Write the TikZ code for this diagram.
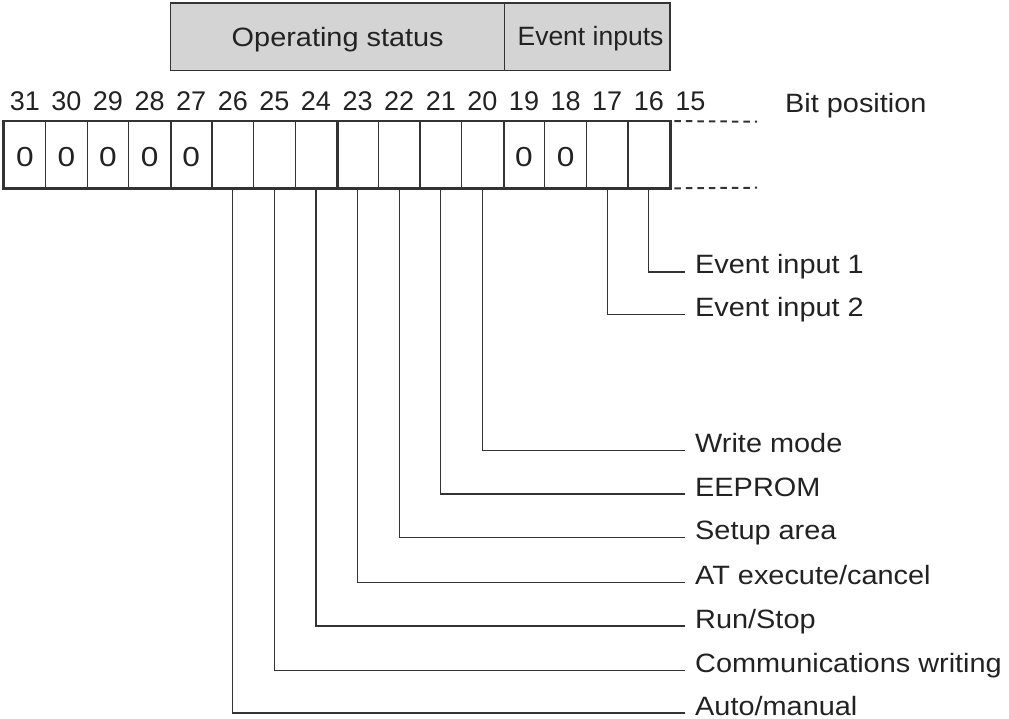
\documentclass[tikz,border=0pt]{standalone}
\usepackage{fontspec}
\setmainfont{Liberation Sans}
\newfontfamily\widefont{Liberation Sans}[FakeStretch=1.09]
\newfontfamily\zerofont{Liberation Sans}[FakeStretch=1.15]
\newfontfamily\plainfont{Liberation Sans}
\definecolor{ink}{HTML}{222222}
\definecolor{linec}{HTML}{333333}
\definecolor{hdrfill}{HTML}{D4D4D4}
\begin{document}
\begin{tikzpicture}[x=1pt,y=-1pt,
  every node/.style={text=ink},
  numfont/.style={font=\plainfont\fontsize{27}{30}\selectfont},
  lblfont/.style={font=\widefont\fontsize{26.5}{30}\selectfont},
  cell/.style={draw=linec, line width=1.3pt, minimum width=41.6pt, minimum height=66pt,
    inner sep=0pt, text height=24pt, text depth=0pt, font=\zerofont\fontsize{27.5}{30}\selectfont},
  hdr/.style={draw=linec, fill=hdrfill, line width=1.3pt, inner sep=0pt},
  bitnum/.style={anchor=base, numfont, inner sep=0pt},
  lbl/.style={anchor=base west, lblfont, inner sep=0pt},
  conn/.style={draw=linec, line width=1.2pt},
  thickline/.style={draw=linec, line width=2.7pt},
  dashline/.style={draw=linec, line width=2pt, dash pattern=on 6.5pt off 5pt, dash phase=-4pt}
]
\useasboundingbox (0,0) rectangle (1009,719);

% header boxes
\node[hdr, minimum width=334pt, minimum height=67.7pt] (opstat) at (337.7,36.85) {};
\node[hdr, minimum width=165.3pt, minimum height=67.7pt] (evin) at (587.35,36.85) {};
\node[lblfont, anchor=base, inner sep=0pt] (optxt) at (337.7,46.7) {Operating status};
\node[font=\plainfont\fontsize{26.5}{30}\selectfont, anchor=base, inner sep=0pt] (evtxt) at (590.5,45.7) {Event inputs};

% bit numbers
\foreach \i in {0,...,16}{
  \pgfmathtruncatemacro{\b}{31-\i}
  \node[bitnum] (n\b) at ({4+(\i+0.5)*41.6},110.7) {\b};
}

% cells
\foreach \i/\v in {0/0,1/0,2/0,3/0,4/0,5/,6/,7/,8/,9/,10/,11/,12/0,13/0,14/,15/}{
  \pgfmathtruncatemacro{\b}{31-\i}
  \node[cell] (c\b) at ({4+(\i+0.5)*41.6},154.7) {\v};
}

% thick outline and group separators
\draw[thickline] (c31.north west) rectangle (c16.south east);
\draw[thickline] (c28.north east) -- (c28.south east);
\draw[thickline] (c24.north east) -- (c24.south east);
\draw[thickline] (c20.north east) -- (c20.south east);

% dashed continuation
\coordinate (dt) at (757,121.7);
\coordinate (db) at (757,187.7);
\draw[dashline] (c16.north east) -- (dt);
\draw[dashline] (c16.south east) -- (db);

\node[lbl] (bitpos) at (785,113) {Bit position};

% labels
\node[lbl] (l16) at (695,274) {Event input 1};
\node[lbl] (l17) at (695,316.5) {Event input 2};
\node[lbl] (l20) at (695,452.5) {Write mode};
\node[lbl] (l21) at (695,496) {EEPROM};
\node[lbl] (l22) at (695,539.5) {Setup area};
\node[lbl] (l23) at (695,584.5) {AT execute/cancel};
\node[lbl] (l24) at (695,628) {Run/Stop};
\node[lbl] (l25) at (695,672.5) {Communications writing};
\node[lbl] (l26) at (695,715) {Auto/manual};

% connectors
\foreach \b in {16,17,20,21,22,23,24,25,26}{
  \draw[conn] (c\b.south) |- ([xshift=-10pt,yshift=2pt]l\b.base west);
}
\end{tikzpicture}
\end{document}
